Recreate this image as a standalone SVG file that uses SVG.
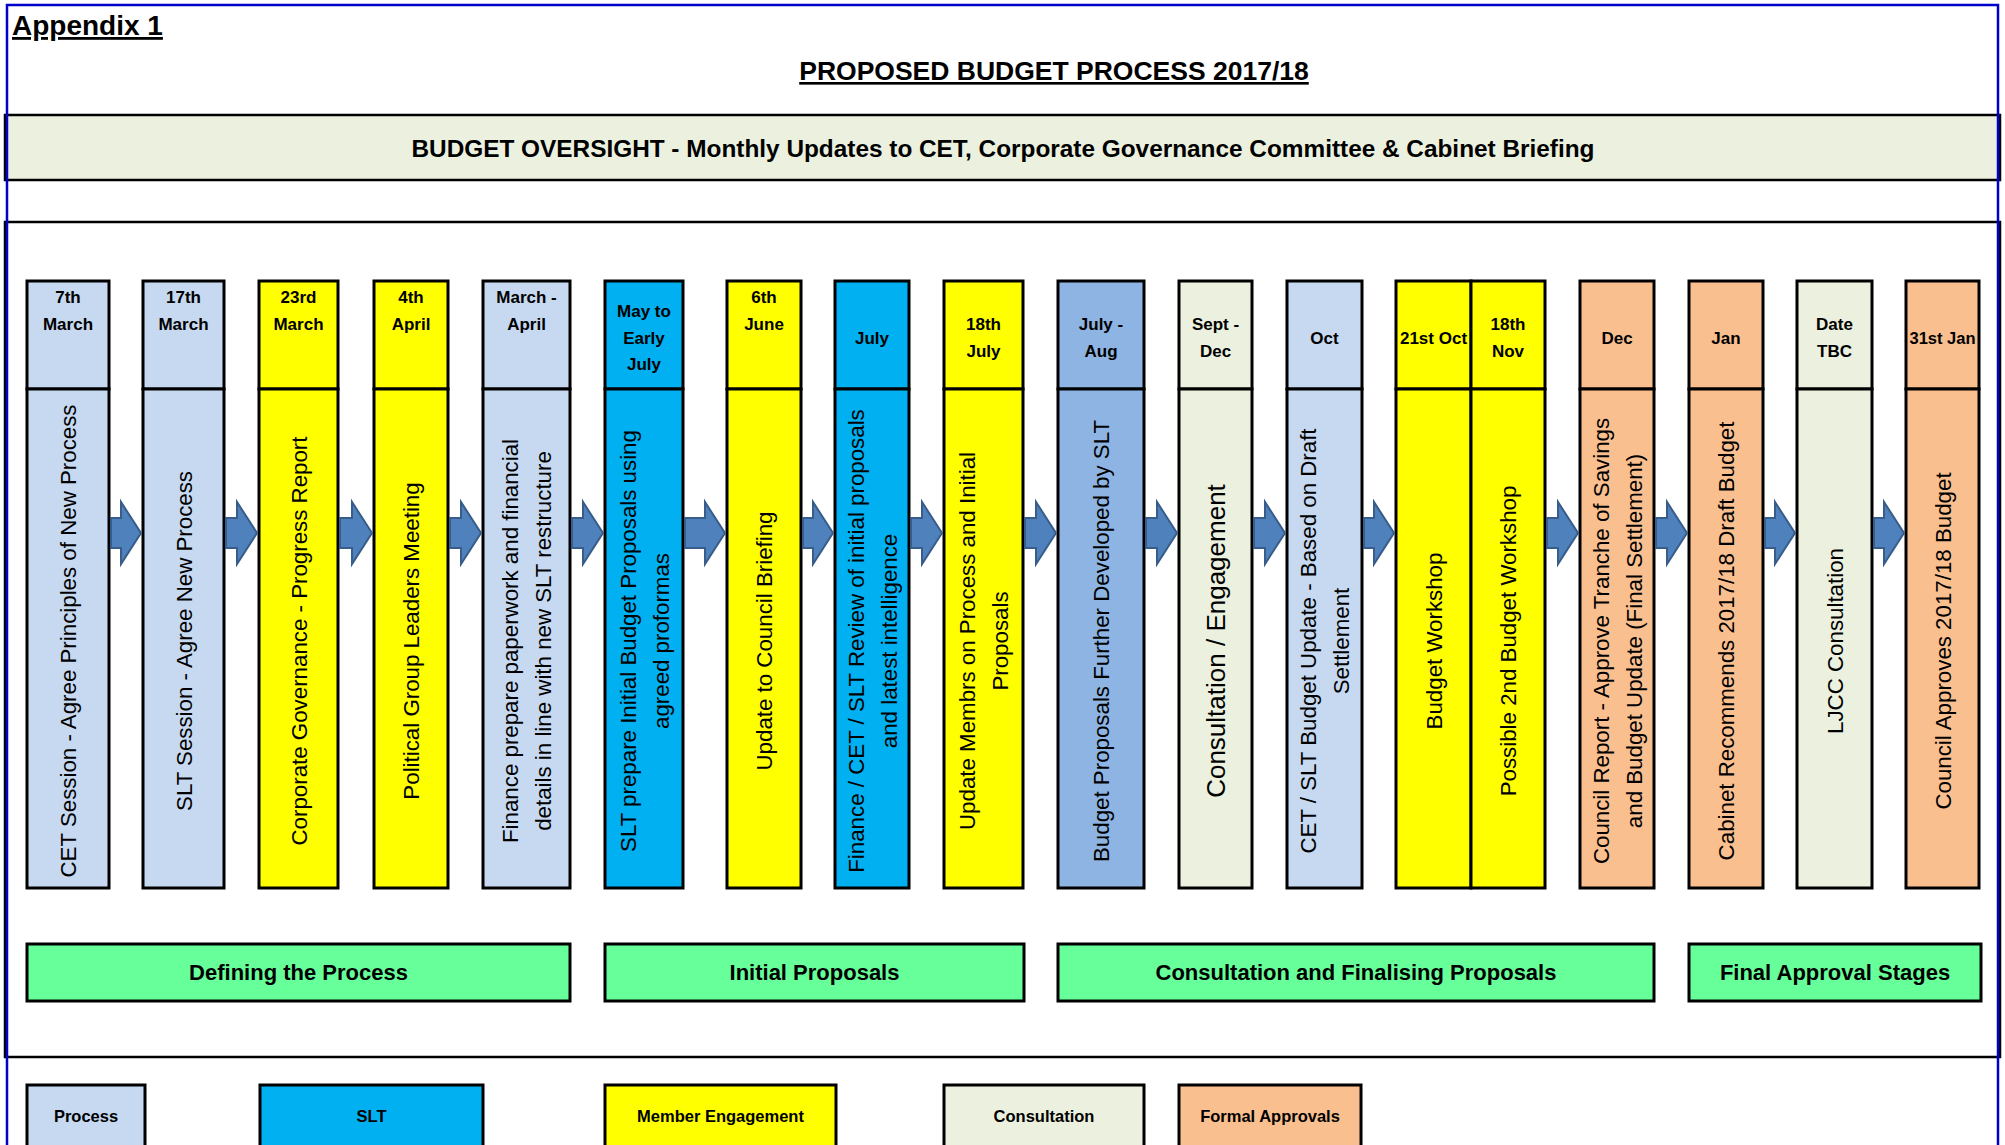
<svg xmlns="http://www.w3.org/2000/svg" width="2005" height="1145" viewBox="0 0 2005 1145">
<defs>
<style>
.box{stroke:#000;stroke-width:3}
.proc{fill:#C6D9F1}.slt{fill:#00B0F0}.mem{fill:#FFFF00}.cons{fill:#EBF1DE}.formal{fill:#FABF8F}.dev{fill:#8DB4E2}.phase{fill:#66FF99}
.hd{font-family:'Liberation Sans',Arial,sans-serif;font-weight:bold;font-size:17px;text-anchor:middle;fill:#000}
.bd{font-family:'Liberation Sans',Arial,sans-serif;font-size:22.3px;text-anchor:middle;fill:#000}
.ph{font-family:'Liberation Sans',Arial,sans-serif;font-weight:bold;font-size:22px;text-anchor:middle;fill:#000}
.lg{font-family:'Liberation Sans',Arial,sans-serif;font-weight:bold;font-size:16.5px;text-anchor:middle;fill:#000}
.arrow{fill:#4F81BD;stroke:#385D8A;stroke-width:2;stroke-linejoin:miter}
</style>
</defs>
<rect x="0" y="0" width="2005" height="1145" fill="#fff"/>

<g id="header">
<text x="12" y="35" font-family="'Liberation Sans',Arial,sans-serif" font-weight="bold" font-size="28" text-decoration="underline">Appendix 1</text>
<text x="1054" y="80" font-family="'Liberation Sans',Arial,sans-serif" font-weight="bold" font-size="26.5" text-anchor="middle" text-decoration="underline">PROPOSED BUDGET PROCESS 2017/18</text>
</g>

<g id="oversight">
<rect x="5" y="115" width="1995" height="65" fill="#EBF1DE" stroke="#000" stroke-width="2.5"/>
<text x="1003" y="157" font-family="'Liberation Sans',Arial,sans-serif" font-weight="bold" font-size="23.5" text-anchor="middle" textLength="1183" lengthAdjust="spacingAndGlyphs">BUDGET OVERSIGHT - Monthly Updates to CET, Corporate Governance Committee &amp; Cabinet Briefing</text>
</g>

<g id="main-frame">
<rect x="5" y="222" width="1995" height="835" fill="#fff" stroke="#000" stroke-width="2.5"/>
</g>

<g id="col1"><rect class="box proc" x="27" y="281" width="82" height="108"/><rect class="box proc" x="27" y="389" width="82" height="499"/>
<text class="hd" x="68" y="303">7th</text><text class="hd" x="68" y="330">March</text>
<text class="bd" transform="translate(76,641) rotate(-90)">CET Session - Agree Principles of New Process</text></g>

<g id="col2"><rect class="box proc" x="143" y="281" width="81" height="108"/><rect class="box proc" x="143" y="389" width="81" height="499"/>
<text class="hd" x="183.5" y="303">17th</text><text class="hd" x="183.5" y="330">March</text>
<text class="bd" transform="translate(191.5,641) rotate(-90)">SLT Session - Agree New Process</text></g>

<g id="col3"><rect class="box mem" x="259" y="281" width="79" height="108"/><rect class="box mem" x="259" y="389" width="79" height="499"/>
<text class="hd" x="298.5" y="303">23rd</text><text class="hd" x="298.5" y="330">March</text>
<text class="bd" transform="translate(306.5,641) rotate(-90)">Corporate Governance - Progress Report</text></g>

<g id="col4"><rect class="box mem" x="374" y="281" width="74" height="108"/><rect class="box mem" x="374" y="389" width="74" height="499"/>
<text class="hd" x="411" y="303">4th</text><text class="hd" x="411" y="330">April</text>
<text class="bd" transform="translate(419,641) rotate(-90)">Political Group Leaders Meeting</text></g>

<g id="col5"><rect class="box proc" x="483" y="281" width="87" height="108"/><rect class="box proc" x="483" y="389" width="87" height="499"/>
<text class="hd" x="526.5" y="303">March -</text><text class="hd" x="526.5" y="330">April</text>
<text class="bd" transform="translate(518,641) rotate(-90)">Finance prepare paperwork and financial</text>
<text class="bd" transform="translate(551,641) rotate(-90)">details in line with new SLT restructure</text></g>

<g id="col6"><rect class="box slt" x="605" y="281" width="78" height="108"/><rect class="box slt" x="605" y="389" width="78" height="499"/>
<text class="hd" x="644" y="317">May to</text><text class="hd" x="644" y="344">Early</text><text class="hd" x="644" y="370">July</text>
<text class="bd" transform="translate(635.5,641) rotate(-90)">SLT prepare Initial Budget Proposals using</text>
<text class="bd" transform="translate(668.5,641) rotate(-90)">agreed proformas</text></g>

<g id="col7"><rect class="box mem" x="727" y="281" width="74" height="108"/><rect class="box mem" x="727" y="389" width="74" height="499"/>
<text class="hd" x="764" y="303">6th</text><text class="hd" x="764" y="330">June</text>
<text class="bd" transform="translate(772,641) rotate(-90)">Update to Council Briefing</text></g>

<g id="col8"><rect class="box slt" x="835" y="281" width="74" height="108"/><rect class="box slt" x="835" y="389" width="74" height="499"/>
<text class="hd" x="872" y="344">July</text>
<text class="bd" transform="translate(863.5,641) rotate(-90)">Finance / CET / SLT Review of initial proposals</text>
<text class="bd" transform="translate(896.5,641) rotate(-90)">and latest intelligence</text></g>

<g id="col9"><rect class="box mem" x="944" y="281" width="79" height="108"/><rect class="box mem" x="944" y="389" width="79" height="499"/>
<text class="hd" x="983.5" y="330">18th</text><text class="hd" x="983.5" y="357">July</text>
<text class="bd" transform="translate(975,641) rotate(-90)">Update Membrs on Process and Initial</text>
<text class="bd" transform="translate(1008,641) rotate(-90)">Proposals</text></g>

<g id="col10"><rect class="box dev" x="1058" y="281" width="86" height="108"/><rect class="box dev" x="1058" y="389" width="86" height="499"/>
<text class="hd" x="1101" y="330">July -</text><text class="hd" x="1101" y="357">Aug</text>
<text class="bd" transform="translate(1109,641) rotate(-90)">Budget Proposals Further Developed by SLT</text></g>

<g id="col11"><rect class="box cons" x="1179" y="281" width="73" height="108"/><rect class="box cons" x="1179" y="389" width="73" height="499"/>
<text class="hd" x="1215.5" y="330">Sept -</text><text class="hd" x="1215.5" y="357">Dec</text>
<text class="bd" style="font-size:26px" transform="translate(1225,641) rotate(-90)">Consultation / Engagement</text></g>

<g id="col12"><rect class="box proc" x="1287" y="281" width="75" height="108"/><rect class="box proc" x="1287" y="389" width="75" height="499"/>
<text class="hd" x="1324.5" y="344">Oct</text>
<text class="bd" transform="translate(1316,641) rotate(-90)">CET / SLT Budget Update - Based on Draft</text>
<text class="bd" transform="translate(1349,641) rotate(-90)">Settlement</text></g>

<g id="col13a"><rect class="box mem" x="1396" y="281" width="75" height="108"/><rect class="box mem" x="1396" y="389" width="75" height="499"/>
<text class="hd" x="1433.5" y="344">21st Oct</text>
<text class="bd" transform="translate(1441.5,641) rotate(-90)">Budget Workshop</text></g>

<g id="col13b"><rect class="box mem" x="1471" y="281" width="74" height="108"/><rect class="box mem" x="1471" y="389" width="74" height="499"/>
<text class="hd" x="1508" y="330">18th</text><text class="hd" x="1508" y="357">Nov</text>
<text class="bd" transform="translate(1516,641) rotate(-90)">Possible 2nd Budget Workshop</text></g>

<g id="col14"><rect class="box formal" x="1580" y="281" width="74" height="108"/><rect class="box formal" x="1580" y="389" width="74" height="499"/>
<text class="hd" x="1617" y="344">Dec</text>
<text class="bd" transform="translate(1608.5,641) rotate(-90)">Council Report - Approve Tranche of Savings</text>
<text class="bd" transform="translate(1641.5,641) rotate(-90)">and Budget Update (Final Settlement)</text></g>

<g id="col15"><rect class="box formal" x="1689" y="281" width="74" height="108"/><rect class="box formal" x="1689" y="389" width="74" height="499"/>
<text class="hd" x="1726" y="344">Jan</text>
<text class="bd" transform="translate(1734,641) rotate(-90)">Cabinet Recommends 2017/18 Draft Budget</text></g>

<g id="col16"><rect class="box cons" x="1797" y="281" width="75" height="108"/><rect class="box cons" x="1797" y="389" width="75" height="499"/>
<text class="hd" x="1834.5" y="330">Date</text><text class="hd" x="1834.5" y="357">TBC</text>
<text class="bd" transform="translate(1842.5,641) rotate(-90)">LJCC Consultation</text></g>

<g id="col17"><rect class="box formal" x="1906" y="281" width="73" height="108"/><rect class="box formal" x="1906" y="389" width="73" height="499"/>
<text class="hd" x="1942.5" y="344" style="font-size:16.5px">31st Jan</text>
<text class="bd" transform="translate(1950.5,641) rotate(-90)">Council Approves 2017/18 Budget</text></g>

<g id="connectors">
<path class="arrow" d="M111,518H121V502L141,533L121,564V548H111Z"/>
<path class="arrow" d="M226,518H237V502L257,533L237,564V548H226Z"/>
<path class="arrow" d="M340,518H352V502L372,533L352,564V548H340Z"/>
<path class="arrow" d="M450,518H461V502L481,533L461,564V548H450Z"/>
<path class="arrow" d="M572,518H583V502L603,533L583,564V548H572Z"/>
<path class="arrow" d="M685,518H705V502L725,533L705,564V548H685Z"/>
<path class="arrow" d="M803,518H813V502L833,533L813,564V548H803Z"/>
<path class="arrow" d="M911,518H922V502L942,533L922,564V548H911Z"/>
<path class="arrow" d="M1025,518H1036V502L1056,533L1036,564V548H1025Z"/>
<path class="arrow" d="M1146,518H1157V502L1177,533L1157,564V548H1146Z"/>
<path class="arrow" d="M1254,518H1265V502L1285,533L1265,564V548H1254Z"/>
<path class="arrow" d="M1364,518H1374V502L1394,533L1374,564V548H1364Z"/>
<path class="arrow" d="M1547,518H1558V502L1578,533L1558,564V548H1547Z"/>
<path class="arrow" d="M1656,518H1667V502L1687,533L1667,564V548H1656Z"/>
<path class="arrow" d="M1765,518H1775V502L1795,533L1775,564V548H1765Z"/>
<path class="arrow" d="M1874,518H1884V502L1904,533L1884,564V548H1874Z"/>
</g>

<g id="phase1"><rect class="box phase" x="27" y="944" width="543" height="57"/><text class="ph" x="298.5" y="980">Defining the Process</text></g>
<g id="phase2"><rect class="box phase" x="605" y="944" width="419" height="57"/><text class="ph" x="814.5" y="980">Initial Proposals</text></g>
<g id="phase3"><rect class="box phase" x="1058" y="944" width="596" height="57"/><text class="ph" x="1356" y="980">Consultation and Finalising Proposals</text></g>
<g id="phase4"><rect class="box phase" x="1689" y="944" width="292" height="57"/><text class="ph" x="1835" y="980">Final Approval Stages</text></g>

<g id="legend-process"><rect class="box proc" x="27" y="1085" width="118" height="90"/><text class="lg" x="86" y="1122">Process</text></g>
<g id="legend-slt"><rect class="box slt" x="260" y="1085" width="223" height="90"/><text class="lg" x="371.5" y="1122">SLT</text></g>
<g id="legend-member"><rect class="box mem" x="605" y="1085" width="231" height="90"/><text class="lg" x="720.5" y="1122">Member Engagement</text></g>
<g id="legend-consultation"><rect class="box cons" x="944" y="1085" width="200" height="90"/><text class="lg" x="1044" y="1122">Consultation</text></g>
<g id="legend-formal"><rect class="box formal" x="1179" y="1085" width="182" height="90"/><text class="lg" x="1270" y="1122">Formal Approvals</text></g>

<rect id="outer-border" x="7" y="5" width="1991" height="1160" fill="none" stroke="#0000CD" stroke-width="2.5"/>
</svg>
